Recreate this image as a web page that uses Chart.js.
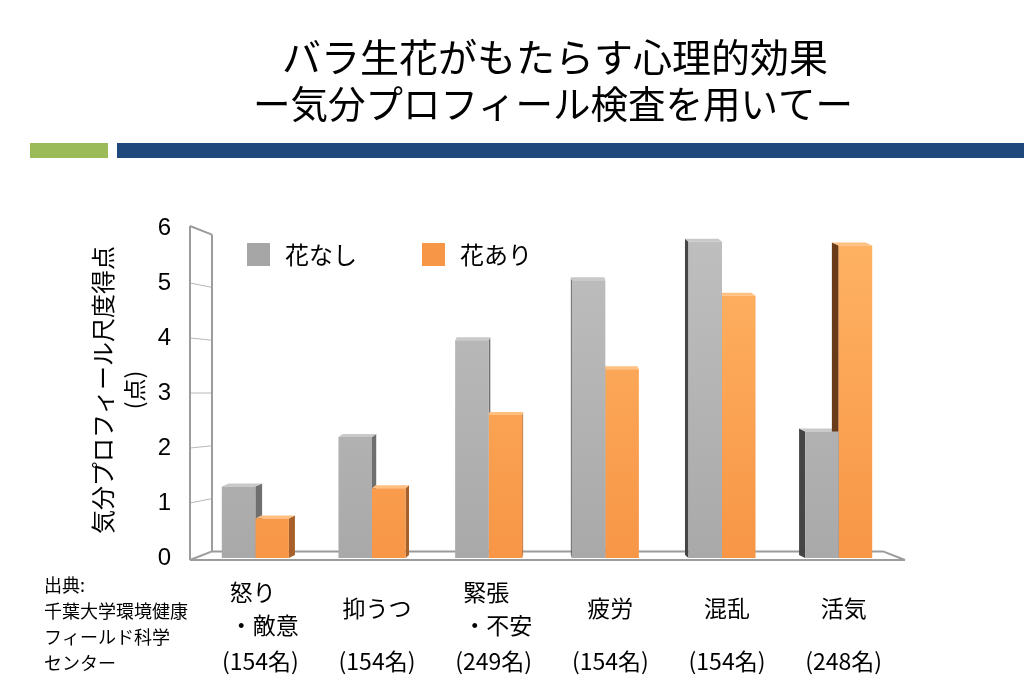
<!DOCTYPE html>
<html lang="ja">
<head>
<meta charset="utf-8">
<title>バラ生花がもたらす心理的効果</title>
<script src="https://cdn.jsdelivr.net/npm/chart.js@4.4.1/dist/chart.umd.min.js"></script>
<style>
  html, body { margin: 0; padding: 0; background: #fff; }
  #wrap { position: relative; width: 1024px; height: 683px; }
</style>
</head>
<body>
<div id="wrap"><canvas id="roseChart"></canvas></div>
<script>
const categories = ["怒り・敵意", "抑うつ", "緊張・不安", "疲労", "混乱", "活気"];
const labelLines = [["怒り", "・敵意"], ["抑うつ"], ["緊張", "・不安"], ["疲労"], ["混乱"], ["活気"]];
const sampleSizes = ["(154名)", "(154名)", "(249名)", "(154名)", "(154名)", "(248名)"];
const seriesNames = ["花なし", "花あり"];
const noFlowers = [1.3, 2.2, 3.96, 5.05, 5.75, 2.3];
const withFlowers = [0.72, 1.27, 2.6, 3.43, 4.77, 5.68];
const yTicks = [0, 1, 2, 3, 4, 5, 6];
const titleLines = ["バラ生花がもたらす心理的効果", "ー気分プロフィール検査を用いてー"];
const yTitle = ["気分プロフィール尺度得点", "(点)"];
const sourceLines = ["出典:", "千葉大学環境健康", "フィールド科学", "センター"];

const JP = '"Noto Sans CJK JP", "Noto Sans", sans-serif';
const LAT = '"Liberation Sans", Arial, sans-serif';

/* face colours: front gradient, right side, left side, top */
const looks = [
  { top: "#bfbfbf", bottom: "#a9a9a9", right: "#6f6f6f", left: "#454545", cap: "#c9c9c9", key: "#a6a6a6" },
  { top: "#ffb364", bottom: "#f79646", right: "#a8602a", left: "#6a3b19", cap: "#ffbf80", key: "#f79646" }
];

function frontFill(ctx, look) {
  const a = ctx.chart.chartArea;
  if (!a) return look.bottom;
  const g = ctx.chart.ctx.createLinearGradient(0, a.top, 0, a.bottom);
  g.addColorStop(0, look.top);
  g.addColorStop(1, look.bottom);
  return g;
}

function poly(ctx, pts, fill) {
  ctx.beginPath();
  ctx.moveTo(pts[0][0], pts[0][1]);
  pts.slice(1).forEach(p => ctx.lineTo(p[0], p[1]));
  ctx.closePath();
  ctx.fillStyle = fill;
  ctx.fill();
}

function seg(ctx, x1, y1, x2, y2) {
  ctx.beginPath();
  ctx.moveTo(x1, y1);
  ctx.lineTo(x2, y2);
  ctx.stroke();
}

/* walls, floor and the side/top faces of the bars */
const depth3d = {
  id: "depth3d",
  beforeDatasetsDraw(chart) {
    const { ctx, chartArea: a, scales: { y } } = chart;
    const cy = y.getPixelForValue(3);
    const back = v => cy + (y.getPixelForValue(v) - cy) * 0.96;
    const fx = a.left - 7, bx = fx + 22, rx = a.right + 8;
    const floorY = y.getPixelForValue(0) + 2;
    ctx.save();
    ctx.strokeStyle = "#b8b8b8";
    ctx.lineWidth = 1;
    yTicks.slice(1, -1).forEach(v => seg(ctx, fx, y.getPixelForValue(v), bx, back(v)));
    ctx.strokeStyle = "#9c9c9c";
    ctx.lineWidth = 2;
    const top = yTicks[yTicks.length - 1];
    seg(ctx, fx, y.getPixelForValue(top) - 2, fx, floorY);
    seg(ctx, bx, back(top), bx, back(0));
    seg(ctx, fx, y.getPixelForValue(top) - 2, bx, back(top));
    seg(ctx, bx, back(0), rx - 22, back(0));
    seg(ctx, fx, floorY, rx, floorY);
    seg(ctx, rx - 22, back(0), rx, floorY);
    seg(ctx, fx, floorY, bx, back(0));

    const vx = (a.left + a.right) / 2;
    chart.data.datasets.forEach((ds, di) => {
      const look = looks[di];
      chart.getDatasetMeta(di).data.forEach(bar => {
        const { x, y: t, base, width } = bar.getProps(["x", "y", "base", "width"], true);
        const dx = (vx - x) * 0.022, dy = 3;
        const l = x - width / 2, r = x + width / 2;
        const edge = dx > 0 ? r : l;
        poly(ctx, [[edge, t], [edge + dx, t - dy], [edge + dx, base - dy], [edge, base]],
          dx > 0 ? look.right : look.left);
        poly(ctx, [[l, t], [r, t], [r + dx, t - dy], [l + dx, t - dy]], look.cap);
      });
    });
    ctx.restore();
  },
  afterDraw(chart) {
    const { ctx, chartArea: a, scales: { x, y } } = chart;
    ctx.save();
    // header strips
    ctx.fillStyle = "#9bbb59";
    ctx.fillRect(30, 143, 78, 15);
    ctx.fillStyle = "#1f497d";
    ctx.fillRect(117, 143, 907, 15);
    // title
    ctx.fillStyle = "#000";
    ctx.textAlign = "center";
    ctx.textBaseline = "middle";
    ctx.font = "39px " + JP;
    ctx.fillText(titleLines[0], 555, 57);
    ctx.font = "37.5px " + JP;
    ctx.fillText(titleLines[1], 553, 104);
    // y axis title
    ctx.save();
    ctx.translate(103, (a.top + a.bottom) / 2 - 3);
    ctx.rotate(-Math.PI / 2);
    ctx.font = "24px " + JP;
    ctx.fillText(yTitle[0], 0, 0);
    ctx.font = "23px " + JP;
    ctx.fillText(yTitle[1], 0, 31);
    ctx.restore();
    // legend inside plot
    chart.data.datasets.forEach((ds, di) => {
      const lx = 247 + di * 175;
      ctx.fillStyle = looks[di].key;
      ctx.fillRect(lx, 243, 23, 23);
      ctx.fillStyle = "#000";
      ctx.textAlign = "left";
      ctx.font = "24px " + JP;
      ctx.fillText(ds.label, lx + 38, 255);
    });
    // category labels
    ctx.font = "23px " + JP;
    chart.data.labels.forEach((c, i) => {
      const cx = x.getPixelForValue(i) + 5;
      const lines = labelLines[i];
      if (lines.length === 1) {
        ctx.textAlign = "center";
        ctx.fillText(lines[0], cx, 608);
      } else {
        const w = Math.max(...lines.map(s => ctx.measureText(s).width));
        ctx.textAlign = "left";
        lines.forEach((s, k) => ctx.fillText(s, cx - w / 2 + 4, 592 + k * 33));
      }
      ctx.textAlign = "center";
      ctx.fillText(sampleSizes[i], cx, 661);
    });
    // source note
    ctx.textAlign = "left";
    ctx.font = "18px " + JP;
    sourceLines.forEach((s, k) => ctx.fillText(s, 44, 585 + k * 26));
    ctx.restore();
  }
};

new Chart(document.getElementById("roseChart"), {
  type: "bar",
  data: {
    labels: categories,
    datasets: [
      { label: seriesNames[0], data: noFlowers, backgroundColor: c => frontFill(c, looks[0]) },
      { label: seriesNames[1], data: withFlowers, backgroundColor: c => frontFill(c, looks[1]) }
    ]
  },
  options: {
    responsive: true,
    maintainAspectRatio: false,
    animation: false,
    layout: { padding: { top: 228, bottom: 125, left: 0, right: 127 } },
    datasets: { bar: { categoryPercentage: 0.575, barPercentage: 1 } },
    plugins: { legend: { display: false }, tooltip: { enabled: false } },
    scales: {
      x: { display: false },
      y: {
        min: 0,
        max: 6,
        afterFit: s => { s.width = 197; },
        afterBuildTicks: s => { s.ticks = yTicks.map(v => ({ value: v })); },
        grid: { display: false, drawTicks: false },
        border: { display: false },
        ticks: { color: "#000", padding: 26, font: { family: LAT, size: 24 } }
      }
    }
  },
  plugins: [depth3d]
});
</script>
</body>
</html>
